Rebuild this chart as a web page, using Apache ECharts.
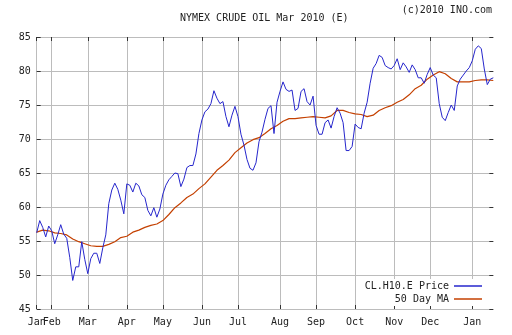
<!DOCTYPE html>
<html>
<head>
<meta charset="utf-8">
<script src="https://cdn.jsdelivr.net/npm/echarts@6/dist/echarts.min.js"></script>
<style>
html,body{margin:0;padding:0;background:#fff;}
#chart{width:512px;height:335px;}
</style>
</head>
<body>
<div id="chart"></div>
<script>
// Daily price samples (CL.H10.E), Jan 2009 -> Jan 2010
const price = [
 56.2,58.0,57.0,55.6,57.2,56.5,54.6,55.9,57.4,56.0,
 55.4,52.6,49.2,51.2,51.2,54.9,52.3,50.2,52.4,53.2,
 53.2,51.7,54.0,55.9,60.5,62.5,63.5,62.6,61.0,59.0,
 63.4,63.2,62.2,63.5,63.1,61.8,61.4,59.5,58.7,59.9,
 58.5,59.7,61.9,63.2,64.0,64.5,65.0,64.9,63.0,64.1,
 65.8,66.1,66.1,67.8,70.8,72.8,74.0,74.4,75.2,77.1,
 76.0,75.2,75.5,73.3,71.8,73.5,74.8,73.3,70.7,69.1,
 67.0,65.7,65.4,66.5,69.6,71.0,72.9,74.5,74.9,70.8,
 75.4,77.0,78.4,77.3,77.0,77.2,74.2,74.5,77.0,77.4,
 75.5,75.0,76.3,72.0,70.7,70.7,72.4,72.8,71.6,73.3,
 74.6,73.8,72.4,68.3,68.3,68.9,72.2,71.7,71.5,73.8,
 75.4,78.2,80.4,81.1,82.3,82.0,80.8,80.5,80.3,80.8,
 81.8,80.2,81.2,80.6,79.8,80.9,80.2,79.0,79.0,78.2,
 79.5,80.5,79.4,79.0,75.2,73.2,72.7,73.9,75.0,74.2,
 77.8,78.8,79.4,80.0,80.5,81.5,83.2,83.7,83.3,80.3,
 78.0,78.8,79.0
];
// 50 day moving average, sampled every second price sample
const ma50 = [
 56.3,56.6,56.5,56.2,56.1,55.9,55.3,54.9,54.6,54.3,
 54.2,54.2,54.5,54.9,55.5,55.7,56.3,56.6,57.0,57.3,
 57.5,58.0,58.9,59.9,60.6,61.4,61.9,62.7,63.4,64.4,
 65.4,66.1,66.9,68.0,68.7,69.4,69.9,70.2,70.8,71.5,
 72.0,72.6,73.0,73.0,73.1,73.2,73.3,73.2,73.1,73.4,
 74.2,74.2,73.9,73.7,73.6,73.3,73.5,74.2,74.6,74.9,
 75.4,75.8,76.5,77.4,77.9,78.8,79.4,79.9,79.6,78.9,
 78.4,78.4,78.4,78.6,78.7,78.7,78.6
];
// Month tick labels and the sample index where each month starts
const monthNames = ['Jan','Feb','Mar','Apr','May','Jun','Jul','Aug','Sep','Oct','Nov','Dec','Jan'];
const monthIdx = [0,5,17,30,42,55,67,81,93,106,119,131,145];
const yMin = 45, yMax = 85, yStep = 5;

const cats = price.map((_, i) => String(i));
const maCats = ma50.map((_, i) => String(i));
const monthAt = {};
monthIdx.forEach((k, j) => { monthAt[k] = monthNames[j]; });
const isMonth = (i) => Object.prototype.hasOwnProperty.call(monthAt, i);

const FONT = '"DejaVu Sans Mono", "Liberation Mono", monospace';
const GRID = '#bcbcbc';
const TICK = '#333333';
const labelStyle = {fontFamily: FONT, fontSize: 10, color: '#222', margin: 8};

const chart = echarts.init(document.getElementById('chart'), null, {renderer: 'canvas'});
chart.setOption({
  animation: false,
  backgroundColor: '#ffffff',
  title: [
    {text: 'NYMEX CRUDE OIL Mar 2010 (E)', left: 180, top: 13, padding: 0,
     textStyle: {fontFamily: FONT, fontSize: 10, fontWeight: 'normal', color: '#222'}},
    {text: '(c)2010 INO.com', right: 20, top: 5, padding: 0,
     textStyle: {fontFamily: FONT, fontSize: 10, fontWeight: 'normal', color: '#222'}}
  ],
  grid: {left: 36.7, right: 18.7, top: 37, bottom: 26, containLabel: false},
  legend: {
    orient: 'vertical', align: 'right', right: 22, top: 279,
    padding: [2, 8, 2, 3], itemGap: 3, itemWidth: 28, itemHeight: 1.5, icon: 'rect',
    backgroundColor: '#ffffff',
    textStyle: {fontFamily: FONT, fontSize: 10, color: '#222'},
    data: ['CL.H10.E Price', '50 Day MA']
  },
  xAxis: [
    // bottom axis: ticks, grid lines and month labels from Feb onward
    {type: 'category', data: cats, boundaryGap: false, position: 'bottom',
     axisLine: {show: false},
     axisTick: {show: true, inside: true, length: 4, interval: (i) => isMonth(i), lineStyle: {color: TICK}},
     axisLabel: Object.assign({show: true, interval: (i) => isMonth(i) && i > 0,
                 formatter: (v, i) => monthAt[i] || '', hideOverlap: false}, labelStyle),
     splitLine: {show: true, interval: (i) => isMonth(i), lineStyle: {color: GRID, width: 1}}},
    // top axis: inward ticks only
    {type: 'category', data: cats, boundaryGap: false, position: 'top',
     axisLine: {show: false},
     axisTick: {show: true, inside: true, length: 4, interval: (i) => isMonth(i), lineStyle: {color: TICK}},
     axisLabel: {show: false}, splitLine: {show: false}},
    // hidden axis for the moving-average samples
    {type: 'category', data: maCats, boundaryGap: false, show: false},
    // bottom axis carrying only the first (Jan) label, overlapped by Feb as in the original
    {type: 'category', data: cats, boundaryGap: false, position: 'bottom',
     axisLine: {show: false}, axisTick: {show: false}, splitLine: {show: false},
     axisLabel: Object.assign({show: true, interval: (i) => i === 0,
                 formatter: (v, i) => (i === 0 ? monthAt[0] : ''), showMinLabel: true}, labelStyle)}
  ],
  yAxis: [
    {type: 'value', min: yMin, max: yMax, interval: yStep, position: 'left',
     axisLine: {show: false},
     axisTick: {show: true, inside: true, length: 4, lineStyle: {color: TICK}},
     axisLabel: {fontFamily: FONT, fontSize: 10, color: '#222', margin: 6},
     splitLine: {show: true, lineStyle: {color: GRID, width: 1}}},
    {type: 'value', min: yMin, max: yMax, interval: yStep, position: 'right',
     axisLine: {show: false},
     axisTick: {show: true, inside: true, length: 4, lineStyle: {color: TICK}},
     axisLabel: {show: false}, splitLine: {show: false}}
  ],
  series: [
    {name: 'CL.H10.E Price', type: 'line', data: price, xAxisIndex: 0, yAxisIndex: 0,
     symbol: 'none', lineStyle: {color: '#2626cc', width: 1}, itemStyle: {color: '#2626cc'}, z: 3},
    {name: '50 Day MA', type: 'line', data: ma50, xAxisIndex: 2, yAxisIndex: 0,
     symbol: 'none', lineStyle: {color: '#c44000', width: 1.2}, itemStyle: {color: '#c44000'}, z: 2}
  ]
});
</script>
</body>
</html>
